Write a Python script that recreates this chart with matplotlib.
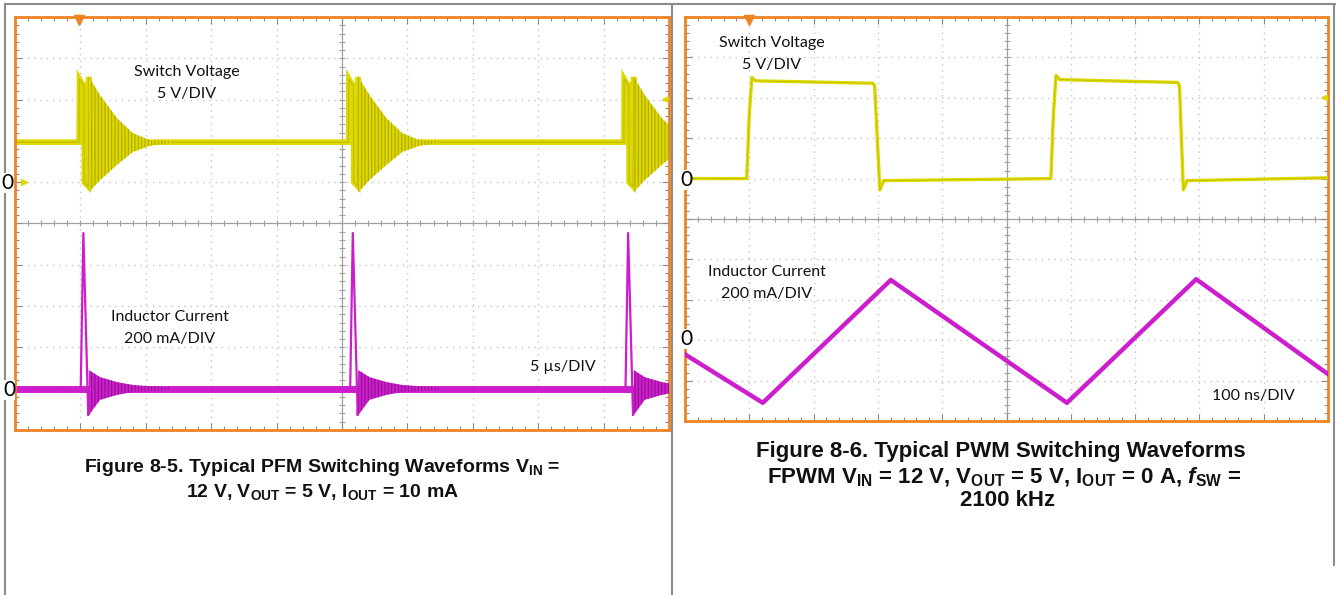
import numpy as np
import matplotlib
matplotlib.use('Agg')
import matplotlib.pyplot as plt
from matplotlib.lines import Line2D

plt.rcParams['font.family'] = ['Lato', 'DejaVu Sans']
plt.rcParams['mathtext.fontset'] = 'custom'
plt.rcParams['mathtext.rm'] = 'Liberation Sans:bold'
plt.rcParams['mathtext.it'] = 'Liberation Sans:bold:italic'
plt.rcParams['mathtext.bf'] = 'Liberation Sans:bold'
plt.rcParams['hatch.linewidth'] = 0.7

# ---- left scope: PFM, values in screen divisions (x: 5 us/div) ----
pfm_pulse_t = [0.98, 5.10, 9.31]
pfm_sw_base = 6.97
pfm_sw_dt = [0.0, 0.005, 0.06, 0.075, 0.08, 0.14, 0.15]
pfm_sw_v = [6.97, 8.50, 8.35, 8.35, 6.00, 5.90, 8.55]
pfm_ring_dt = [0.15, 0.32, 0.58, 0.82, 1.08, 1.40]
pfm_sw_ring_top = [8.55, 8.11, 7.55, 7.19, 7.02, 6.99]
pfm_sw_ring_bot = [5.76, 6.05, 6.42, 6.73, 6.88, 6.95]
pfm_il_base = 1.0
pfm_il_dt = [0.0, 0.025, 0.065, 0.14]
pfm_il_v = [1.0, 1.0, 4.77, 0.36]
pfm_il_ring_top = [1.45, 1.28, 1.16, 1.09, 1.06, 1.03]
pfm_il_ring_bot = [0.36, 0.73, 0.85, 0.92, 0.94, 0.97]

# ---- right scope: PWM (x: 100 ns/div) ----
pwm_sw_t = [0.0, 0.96, 1.00, 1.04, 1.10, 2.92, 2.95, 3.03, 3.09, 5.69, 5.73, 5.77, 5.83, 7.66, 7.69, 7.75, 7.81, 10.0]
pwm_sw_v = [6.00, 6.00, 7.60, 8.50, 8.42, 8.36, 8.30, 5.72, 5.95, 6.00, 7.60, 8.55, 8.45, 8.38, 8.30, 5.72, 5.95, 6.02]
pwm_il_t = [0.0, 1.21, 3.20, 5.94, 7.95, 10.0]
pwm_il_v = [1.65, 0.45, 3.49, 0.45, 3.51, 1.16]

W, H = 1336, 595
YEL = '#dcd800'
YEL_DK = '#aaa200'
MAG = '#cc1ecc'
MAG_DK = '#8a108a'
ORANGE = '#ee8422'
GRID = '#c4c4c4'

fig = plt.figure(figsize=(W / 100, H / 100), dpi=100)


def fx(x):
    return x / W


def fy(y):
    return 1 - y / H


def scope(box):
    x0, y0, x1, y1 = box
    ax = fig.add_axes([fx(x0), fy(y1), (x1 - x0) / W, (y1 - y0) / H])
    ax.set_xlim(0, 10)
    ax.set_ylim(0, 10)
    for s in ax.spines.values():
        s.set_color(ORANGE)
        s.set_linewidth(2)
    ax.set_xticks(np.arange(0, 11))
    ax.set_yticks(np.arange(0, 11))
    ax.set_xticks(np.arange(0, 10.01, 0.2), minor=True)
    ax.set_yticks(np.arange(0, 10.01, 0.2), minor=True)
    ax.tick_params(which='both', direction='in', top=True, right=True,
                   labelbottom=False, labelleft=False, color='#8a8a8a', width=0.8)
    ax.tick_params(which='major', length=5)
    ax.tick_params(which='minor', length=3)
    for i in range(1, 10):
        if i == 5:
            continue
        ax.axvline(i, color=GRID, lw=1, ls=(0, (1, 3.5)), zorder=1)
        ax.axhline(i, color=GRID, lw=1, ls=(0, (1, 3.5)), zorder=1)
    ax.axvline(5, color='#a0a0a0', lw=0.9, zorder=1)
    ax.axhline(5, color='#a0a0a0', lw=0.9, zorder=1)
    m = np.arange(0.2, 10, 0.2)
    ax.plot(np.full(len(m), 5), m, ls='none', marker='_', ms=5, mew=0.8, color='#a0a0a0', zorder=1)
    ax.plot(m, np.full(len(m), 5), ls='none', marker='|', ms=5, mew=0.8, color='#a0a0a0', zorder=1)
    return ax


axL = scope((15, 17, 669, 430))
axR = scope((685, 17, 1328, 421))

# switch voltage, PFM: pulse outline as a line, ringing as its envelope
xs, ys = [0], [pfm_sw_base]
for t0 in pfm_pulse_t:
    xs += [t0 + d for d in pfm_sw_dt]
    ys += pfm_sw_v
    xs += [t0 + pfm_ring_dt[0] + 0.01]
    ys += [pfm_sw_base]
    axL.fill_between([t0 + d for d in pfm_ring_dt], pfm_sw_ring_bot, pfm_sw_ring_top,
                     facecolor=YEL, edgecolor=YEL_DK, hatch='|||||', lw=0, zorder=3)
xs.append(10)
ys.append(pfm_sw_base)
axL.plot(xs, ys, color=YEL, lw=4, zorder=2, solid_joinstyle='miter')
axL.plot(xs, ys, color=YEL_DK, lw=0.6, alpha=0.7, zorder=2)

# inductor current, PFM
xs, ys = [0], [pfm_il_base]
for t0 in pfm_pulse_t:
    xs += [t0 + d for d in pfm_il_dt]
    ys += pfm_il_v
    xs += [t0 + pfm_ring_dt[0] + 0.01]
    ys += [pfm_il_base]
    axL.fill_between([t0 + d for d in pfm_ring_dt], pfm_il_ring_bot, pfm_il_ring_top,
                     facecolor=MAG, edgecolor=MAG_DK, hatch='|||||', lw=0, zorder=3)
xs.append(10)
ys.append(pfm_il_base)
axL.plot(xs, ys, color=MAG, lw=1.6, zorder=2)
axL.plot([0, 10], [pfm_il_base, pfm_il_base], color=MAG, lw=5, zorder=2)

# PWM traces
axR.plot(pwm_sw_t, pwm_sw_v, color=YEL, lw=2.4, zorder=4)
axR.plot(pwm_sw_t, pwm_sw_v, color=YEL_DK, lw=0.4, alpha=0.6, zorder=4)
axR.plot(pwm_il_t, pwm_il_v, color=MAG, lw=3.2, zorder=4)

# trigger markers
for ax, t in ((axL, 0.98), (axR, 1.0)):
    ax.plot(t, 9.93, marker='v', color=ORANGE, ms=7, clip_on=False, zorder=6)
    ax.annotate('', xy=(9.84, 8.0), xytext=(10.0, 8.0),
                arrowprops=dict(arrowstyle='-|>', color=YEL, lw=1.5, mutation_scale=8), zorder=6)
axL.plot(0.14, 6.0, marker='>', color=YEL, ms=4, zorder=6)

# scope annotations
lab = dict(fontsize=11.5, color='#111111', ha='center', va='center')
fig.text(fx(187), fy(72), 'Switch Voltage', **lab)
fig.text(fx(187), fy(94), '5 V/DIV', **lab)
fig.text(fx(170), fy(317), 'Inductor Current', **lab)
fig.text(fx(170), fy(339), '200 mA/DIV', **lab)
fig.text(fx(563), fy(367), '5 µs/DIV', **lab)
fig.text(fx(772), fy(43), 'Switch Voltage', **lab)
fig.text(fx(772), fy(65), '5 V/DIV', **lab)
fig.text(fx(767), fy(272), 'Inductor Current', **lab)
fig.text(fx(767), fy(294), '200 mA/DIV', **lab)
fig.text(fx(1253), fy(396), '100 ns/DIV', **lab)

zero = dict(fontsize=15, color='black', ha='center', va='center',
            bbox=dict(facecolor='white', edgecolor='none', pad=0))
fig.text(fx(7), fy(183), '0', **zero)
fig.text(fx(9), fy(390), '0', **zero)
fig.text(fx(686), fy(180), '0', **zero)
fig.text(fx(686), fy(339), '0', **zero)

# table borders
for (x0, y0, x1, y1) in [(5, 4, 1336, 4), (5, 4, 5, 595), (672, 4, 672, 595), (1334, 4, 1334, 565)]:
    fig.add_artist(Line2D([fx(x0), fx(x1)], [fy(y0), fy(y1)], color='#8c8c8c', lw=1.5))

# captions
cap = dict(fontsize=14, fontweight='bold', family='Liberation Sans', ha='center', va='center', color='#111111')
fig.text(fx(322), fy(467), r'Figure 8-5. Typical PFM Switching Waveforms $\mathrm{V_{IN}}$ =', **cap)
fig.text(fx(322), fy(492), r'12 V, $\mathrm{V_{OUT}}$ = 5 V, $\mathrm{I_{OUT}}$ = 10 mA', **cap)
cap['fontsize'] = 16
fig.text(fx(1001), fy(452), 'Figure 8-6. Typical PWM Switching Waveforms', **cap)
fig.text(fx(1004), fy(477), r'FPWM $\mathrm{V_{IN}}$ = 12 V, $\mathrm{V_{OUT}}$ = 5 V, $\mathrm{I_{OUT}}$ = 0 A, $\mathit{f}_\mathrm{SW}$ =', **cap)
fig.text(fx(1008), fy(501), '2100 kHz', **cap)

fig.savefig('out.png', dpi=100)
